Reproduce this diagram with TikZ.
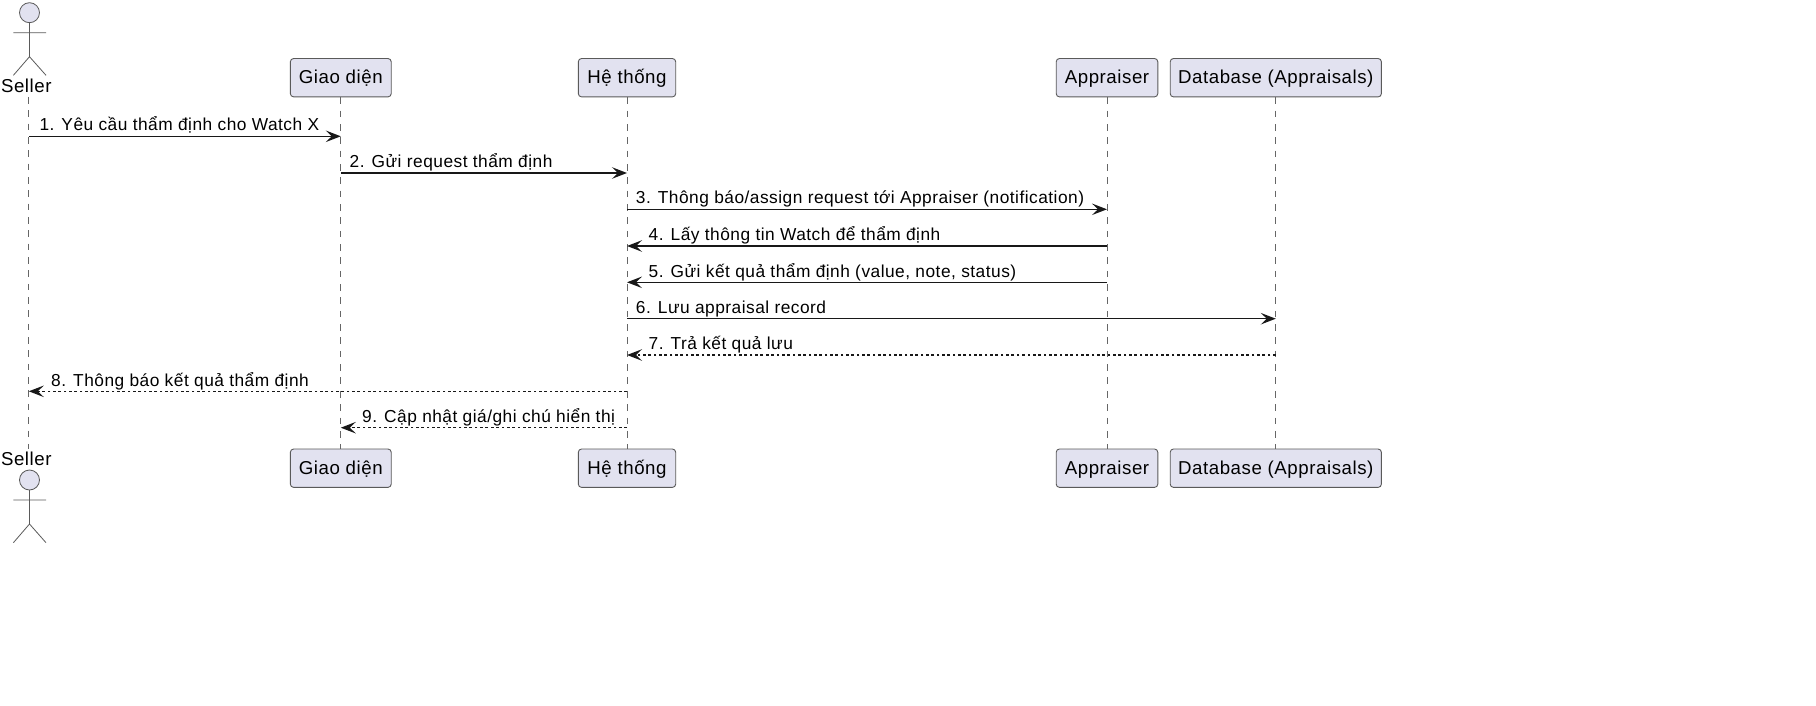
\documentclass[tikz,border=0pt]{standalone}
\usepackage{fontspec}
\setmainfont{Liberation Sans}
\newfontfamily\msgfont[LetterSpace=2.8]{Liberation Sans}
\newfontfamily\partfont[LetterSpace=3]{Liberation Sans}
\usetikzlibrary{arrows.meta}
\definecolor{boxfill}{HTML}{E2E2F0}
\definecolor{ink}{HTML}{181818}
\definecolor{edgegray}{HTML}{5A5A5A}
\definecolor{lifegray}{HTML}{666666}
\tikzset{
  x=1pt,y=-1pt,
  part/.style={draw=edgegray,line width=0.9pt,fill=boxfill,rounded corners=3.3pt,minimum height=38.4pt,inner sep=0pt},
  actorline/.style={draw=edgegray,line width=0.8pt},
  lifeline/.style={draw=lifegray,line width=0.67pt,dash pattern=on 6.67pt off 6.67pt},
  sync/.style={draw=ink,line width=1.33pt,-{Stealth[length=15pt,width=11.5pt,inset=6pt,fill=ink]}},
  reply/.style={sync,dash pattern=on 2.67pt off 2.67pt},
  msg/.style={anchor=base west,inner sep=0pt,font=\msgfont\fontsize{17.33}{20}\selectfont,text=black},
  actorname/.style={inner sep=0pt,anchor=base,font=\partfont\fontsize{18.67}{22}\selectfont,text=black},
  parttext/.style={anchor=base,inner sep=0pt,font=\partfont\fontsize{18.67}{22}\selectfont,text=black},
}
\begin{document}
\begin{tikzpicture}
\useasboundingbox (0,0) rectangle (1816,706);
% participants
\node[part,minimum width=100.9pt] (gt) at (340.8,77.7) {};
\node[part,minimum width=97.4pt] (ht) at (627,77.7) {};
\node[part,minimum width=101.6pt] (at) at (1107,77.7) {};
\node[part,minimum width=211.2pt] (dt) at (1275.8,77.7) {};
\node[part,minimum width=100.9pt] (gb) at (340.8,468.2) {};
\node[part,minimum width=97.4pt] (hb) at (627,468.2) {};
\node[part,minimum width=101.6pt] (ab) at (1107,468.2) {};
\node[part,minimum width=211.2pt] (db) at (1275.8,468.2) {};
\node[parttext] (gtt) at (340.8,83.5) {Giao diện};
\node[parttext] (htt) at (627,83.5) {Hệ thống};
\node[parttext] (att) at (1107,83.5) {Appraiser};
\node[parttext] (dtt) at (1275.8,83.5) {Database (Appraisals)};
\node[parttext] (gbt) at (340.8,474) {Giao diện};
\node[parttext] (hbt) at (627,474) {Hệ thống};
\node[parttext] (abt) at (1107,474) {Appraiser};
\node[parttext] (dbt) at (1275.8,474) {Database (Appraisals)};
% lifelines
\coordinate (st) at (28.8,97);
\coordinate (sb) at (28.8,448.5);
\draw[lifeline] (st) -- (sb);
\draw[lifeline] (gt.south) -- (gb.north);
\draw[lifeline] (ht.south) -- (hb.north);
\draw[lifeline] (at.south) -- (ab.north);
\draw[lifeline] (dt.south) -- (db.north);
% actors
\node[actorname] (sellerTop) at (26.3,93) {Seller};
\node[actorname] (sellerBot) at (26.3,465) {Seller};
\draw[actorline,fill=boxfill] (29.5,12.7) circle[radius=10];
\draw[actorline] (29.5,22.7) -- (29.5,56.7) (13.4,32.7) -- (46,32.7) (13.4,75.3) -- (29.5,56.7) -- (46,75.3);
\draw[actorline,fill=boxfill] (29.5,480) circle[radius=10];
\draw[actorline] (29.5,490) -- (29.5,524) (13.4,500) -- (46,500) (13.4,542.7) -- (29.5,524) -- (46,542.7);
% message ends
\coordinate (s1) at (st |- 0,136.3);
\coordinate (g1) at (gt |- 0,136.3);
\coordinate (g2) at (gt |- 0,173);
\coordinate (h2) at (ht |- 0,173);
\coordinate (h3) at (ht |- 0,209.3);
\coordinate (a3) at (at |- 0,209.3);
\coordinate (a4) at (at |- 0,246);
\coordinate (h4) at (ht |- 0,246);
\coordinate (a5) at (at |- 0,282.3);
\coordinate (h5) at (ht |- 0,282.3);
\coordinate (h6) at (ht |- 0,318.7);
\coordinate (d6) at (dt |- 0,318.7);
\coordinate (d7) at (dt |- 0,355);
\coordinate (h7) at (ht |- 0,355);
\coordinate (h8) at (ht |- 0,391.3);
\coordinate (s8) at (st |- 0,391.3);
\coordinate (h9) at (ht |- 0,427.7);
\coordinate (g9) at (gt |- 0,427.7);
\draw[sync] (s1) -- (g1);
\draw[sync] (g2) -- (h2);
\draw[sync] (h3) -- (a3);
\draw[sync] (a4) -- (h4);
\draw[sync] (a5) -- (h5);
\draw[sync] (h6) -- (d6);
\draw[reply] (d7) -- (h7);
\draw[reply] (h8) -- (s8);
\draw[reply] (h9) -- (g9);
% labels
\node[msg] (t1) at (39.3,131) {1. Yêu cầu thẩm định cho Watch X};
\node[msg] (t2) at (349.5,167.7) {2. Gửi request thẩm định};
\node[msg] (t3) at (635.7,204) {3. Thông báo/assign request tới Appraiser (notification)};
\node[msg] (t4) at (648.5,240.7) {4. Lấy thông tin Watch để thẩm định};
\node[msg] (t5) at (648.5,277) {5. Gửi kết quả thẩm định (value, note, status)};
\node[msg] (t6) at (635.7,313.4) {6. Lưu appraisal record};
\node[msg] (t7) at (648.5,349.7) {7. Trả kết quả lưu};
\node[msg] (t8) at (51,386) {8. Thông báo kết quả thẩm định};
\node[msg] (t9) at (362,422.4) {9. Cập nhật giá/ghi chú hiển thị};
\end{tikzpicture}
\end{document}
